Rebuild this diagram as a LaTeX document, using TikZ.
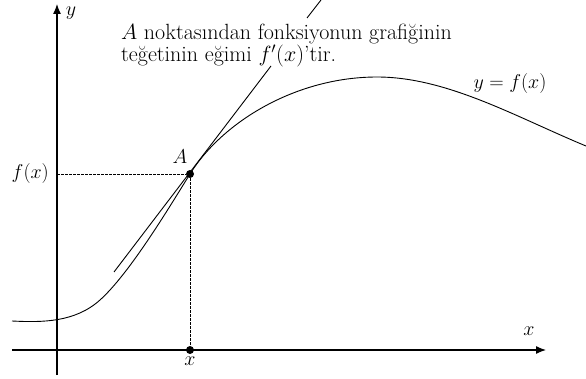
\RequirePackage{fix-cm}
\documentclass[tikz,border=0pt]{standalone}
\usepackage{fontspec}
\usetikzlibrary{arrows.meta,positioning,calc}
\newcommand\notefont{\fontsize{22}{22}\selectfont}
\tikzset{
  axis/.style={
    -{Latex[length=10pt,width=8pt]},
    line width=1.2pt
  },
  curve/.style={
    line width=0.9pt
  },
  guide/.style={
    line width=0.8pt,
    dash pattern=on 2.5pt off 1.5pt
  },
  dot/.style={
    circle,
    fill=black,
    inner sep=0pt,
    minimum size=8pt
  },
  lbl/.style={
    inner sep=1pt,
    font=\fontsize{20}{22}\selectfont
  },
  notetext/.style={
    inner sep=0pt,
    anchor=north west,
    align=left,
    font=\notefont
  }
}

\begin{document}
\begin{tikzpicture}[x=1pt,y=1pt]
\useasboundingbox (0,0) rectangle (586,378);
% axes
\coordinate (O) at (57,28);
\coordinate (xend) at (546,28);
\coordinate (xstart) at (12,28);
\coordinate (yend) at (57,374);
\coordinate (ystart) at (57,3);
\draw[axis] (xstart) -- (xend);
\draw[axis] (ystart) -- (yend);
\node[lbl] (ylab) at (71,365) {$y$};
\node[lbl] (xlab) at (529,47) {$x$};
% the graph
\coordinate (top) at (377,301);
\draw[curve] (12,57) .. controls (42,55.5) and (75,55.5) .. (100,78)
  .. controls (130,105) and (170,172) .. (190,204)
  .. controls (223,257) and (297,301) .. (top)
  .. controls (447,301) and (516,261) .. (586,232);
\node[lbl] (graph) at (510,294) {$y = f(x)$};
% point A and its tangent
\node[dot] (A) at (190,204) {};
\node[dot] (xa) at (190,28) {};
\coordinate (fy) at (57,204);
\node[lbl] (Alab) at ($(A)+(-10,17)$) {$A$};
\node[lbl, below=1pt of xa] (xalab) {$x$};
\node[lbl, anchor=east] (fx) at (50,204) {$f(x)$};
\draw[guide] (fy) -- (A);
\draw[guide] (A) -- (xa);
\coordinate (t1) at ($(A)+(-76,-98)$);
\coordinate (t2) at ($(A)+(81,108)$);
\draw[curve] (t1) -- (t2);
% note
\node[notetext] (note) at (121,354.3)
  {$A$ noktasından fonksiyonun grafiğinin\\teğetinin eğimi $f'(x)$’tir.};
\coordinate (ptr1) at (307,360);
\coordinate (ptr2) at (321,378);
\draw[curve] (ptr1) -- (ptr2);
\end{tikzpicture}
\end{document}
